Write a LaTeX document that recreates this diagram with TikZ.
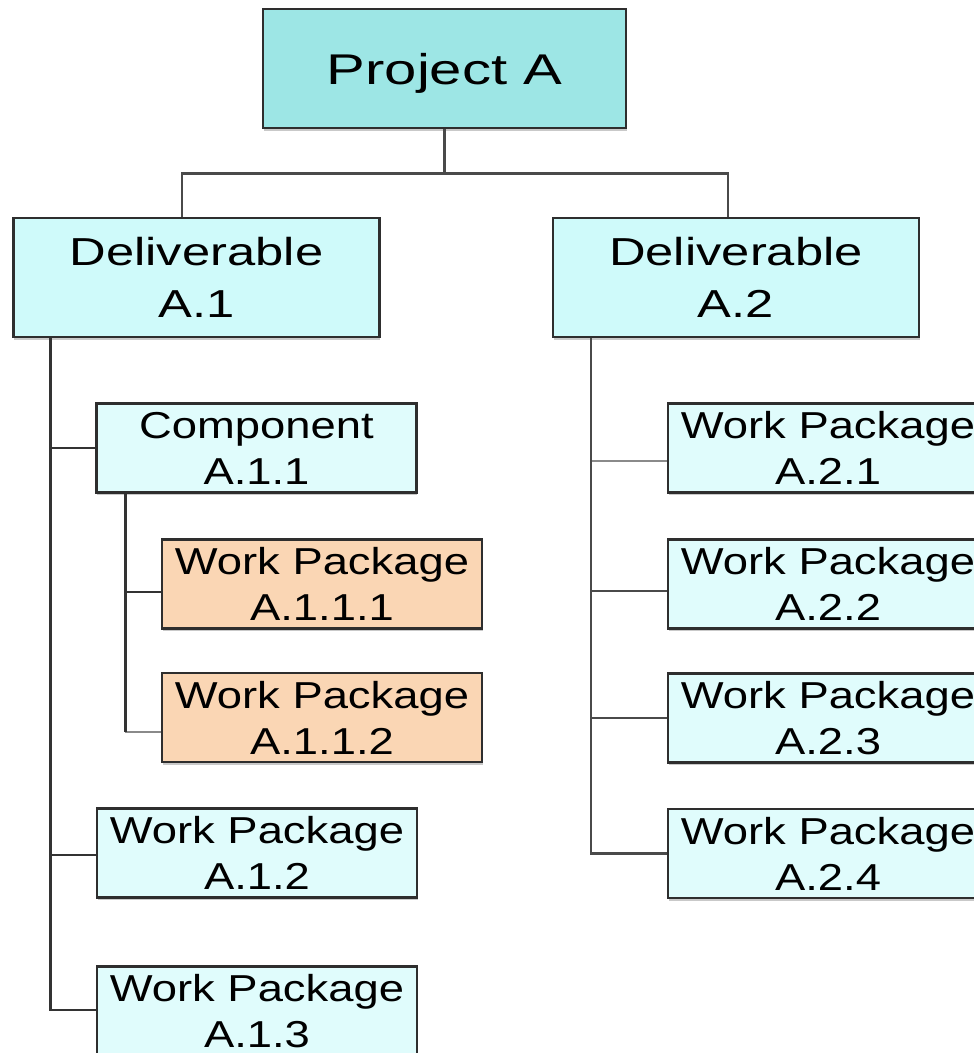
\documentclass[tikz,border=0pt]{standalone}
\usepackage{fontspec}
\setmainfont{Liberation Sans}
\newfontfamily\fpa{Liberation Sans}[FakeStretch=1.35]
\newfontfamily\fdl{Liberation Sans}[FakeStretch=1.3]
\newfontfamily\fwp{Liberation Sans}[FakeStretch=1.21]
\usetikzlibrary{shadows}
\definecolor{projfill}{HTML}{9DE6E5}
\definecolor{delfill}{HTML}{CFFAFA}
\definecolor{wpfill}{HTML}{E0FCFC}
\definecolor{orfill}{HTML}{FAD6B4}
\definecolor{edgec}{HTML}{2E2E2E}
\definecolor{connc}{HTML}{333333}
\definecolor{connl}{HTML}{8A8A8A}
\definecolor{connm}{HTML}{4A4A4A}
\begin{document}
\begin{tikzpicture}[x=1pt,y=-1pt,
  box/.style={draw=edgec, line width=2.5pt, rectangle, inner sep=0pt, align=center, text=black,
    drop shadow={shadow xshift=0.5pt, shadow yshift=-2.5pt, fill=black!35, opacity=0.6}},
  projbox/.style={box, fill=projfill, minimum width=363pt, minimum height=119pt,
    font=\fpa\fontsize{43}{50}\selectfont, text depth=0pt},
  delbox/.style={box, fill=delfill, minimum width=366pt, minimum height=119pt,
    font=\fdl\fontsize{39}{52}\selectfont},
  wpbox/.style={box, fill=wpfill, minimum width=320pt, minimum height=89pt,
    font=\fwp\fontsize{37.5}{46}\selectfont},
  orbox/.style={wpbox, fill=orfill},
  conn/.style={draw=connc, line width=2.5pt},
  connlt/.style={draw=connl, line width=2.5pt},
  connmid/.style={draw=connm, line width=2.5pt}
]
\useasboundingbox (0,0) rectangle (974,1053);
\clip (0,0) rectangle (974,1053);
\fill[white] (0,0) rectangle (974,1053);

% nodes
\node[projbox] (pa) at (444.5,68.5) {Project A};
\node[delbox] (d1) at (196.5,277.5) {Deliverable\\A.1};
\node[delbox] (d2) at (736,277.5) {Deliverable\\A.2};
\node[wpbox] (c11) at (256.5,448) {Component\\A.1.1};
\node[orbox] (w111) at (322,584) {Work Package\\A.1.1.1};
\node[orbox] (w112) at (322,717.5) {Work Package\\A.1.1.2};
\node[wpbox] (w12) at (257,853) {Work Package\\A.1.2};
\node[wpbox] (w13) at (257,1011) {Work Package\\A.1.3};
\node[wpbox] (w21) at (828,448) {Work Package\\A.2.1};
\node[wpbox] (w22) at (828,584) {Work Package\\A.2.2};
\node[wpbox] (w23) at (828,718) {Work Package\\A.2.3};
\node[wpbox] (w24) at (828,853.5) {Work Package\\A.2.4};

% top bus
\draw[connmid] (pa.south) -- ++(0,44) coordinate (bus);
\draw[connmid] ([xshift=-14.5pt]d1.north) |- (bus) -| ([xshift=-8pt]d2.north);

% left trunk
\coordinate (l0) at ([xshift=38pt]d1.south west);
\coordinate (k13) at ([yshift=1pt]w13.west);
\coordinate (k12) at ([yshift=-2pt]w12.west);
\draw[conn] (l0) |- (k13);
\draw[conn] (l0 |- c11.west) -- (c11.west);
\draw[conn] (l0 |- k12) -- (k12);

% component sub-trunk
\coordinate (s0) at ([xshift=30pt]c11.south west);
\coordinate (k111) at ([yshift=-8pt]w111.west);
\coordinate (k112) at ([yshift=-14.5pt]w112.west);
\draw[connlt] (s0 |- k112) -- (k112);
\draw[conn] (s0) -- (s0 |- k112);
\draw[conn] (s0 |- k111) -- (k111);

% right trunk
\coordinate (r0) at ([xshift=39pt]d2.south west);
\coordinate (k21) at ([yshift=-13pt]w21.west);
\coordinate (k22) at ([yshift=-7pt]w22.west);
\draw[connlt] (r0 |- k21) -- (k21);
\draw[connmid] (r0) |- (w24.west);
\draw[connmid] (r0 |- k22) -- (k22);
\draw[connmid] (r0 |- w23.west) -- (w23.west);
\end{tikzpicture}
\end{document}
